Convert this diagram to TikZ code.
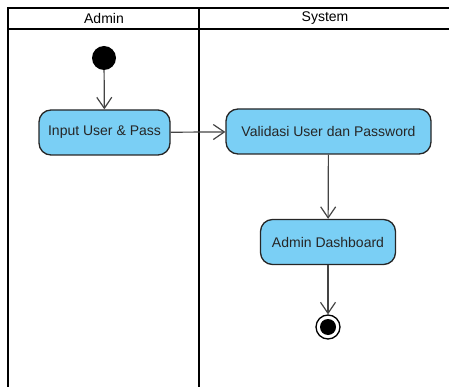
\documentclass[tikz,border=0pt]{standalone}
\usepackage{fontspec}
\setmainfont{Liberation Sans}
\usetikzlibrary{arrows.meta}

\definecolor{actblue}{HTML}{7ACFF5}
\definecolor{flowgray}{HTML}{444444}

\tikzset{
  lane/.style={line width=2.6pt, black},
  lanetitle/.style={font=\fontsize{14}{16}\selectfont},
  activity/.style={draw=black!85, line width=1.3pt, fill=actblue, rounded corners=12pt,
    minimum height=45pt, inner xsep=6pt, text=black!85, font=\fontsize{14}{16}\selectfont},
  flow/.style={draw=flowgray, line width=1.2pt, -{Straight Barb[length=11pt,width=15pt,line width=1.2pt]}},
}

\begin{document}
\begin{tikzpicture}[x=1pt, y=-1pt]
  \useasboundingbox (0,0) rectangle (449,387);
  \clip (0,0) rectangle (449,387);

  % Swimlanes
  \draw[lane] (8,8) rectangle (460,400);
  \draw[lane] (8,29) -- (460,29);
  \draw[lane] (199,8) -- (199,400);
  \node[lanetitle] (adminlane) at (104,18.5) {Admin};
  \node[lanetitle] (systemlane) at (325,18.5) {System};

  % Start and end
  \node[circle, fill=black, minimum size=24pt, inner sep=0pt] (start) at (104,58) {};
  \node[circle, draw=black, line width=1.3pt, fill=white, minimum size=24pt, inner sep=0pt] (finish) at (328,327) {};
  \fill[black] (finish) circle (8pt);

  % Activities
  \node[activity, minimum width=131pt] (input) at (104.5,132.5) {Input User \& Pass};
  \node[activity, minimum width=205pt] (validasi) at (328.5,131.5) {Validasi User dan Password};
  \node[activity, minimum width=135pt] (dashboard) at (328,242) {Admin Dashboard};

  % Flows
  \draw[flow] (start) -- (input);
  \draw[flow] (input) -- (validasi);
  \draw[flow] (validasi) -- (dashboard);
  \draw[flow] (dashboard) -- (finish);
\end{tikzpicture}
\end{document}
